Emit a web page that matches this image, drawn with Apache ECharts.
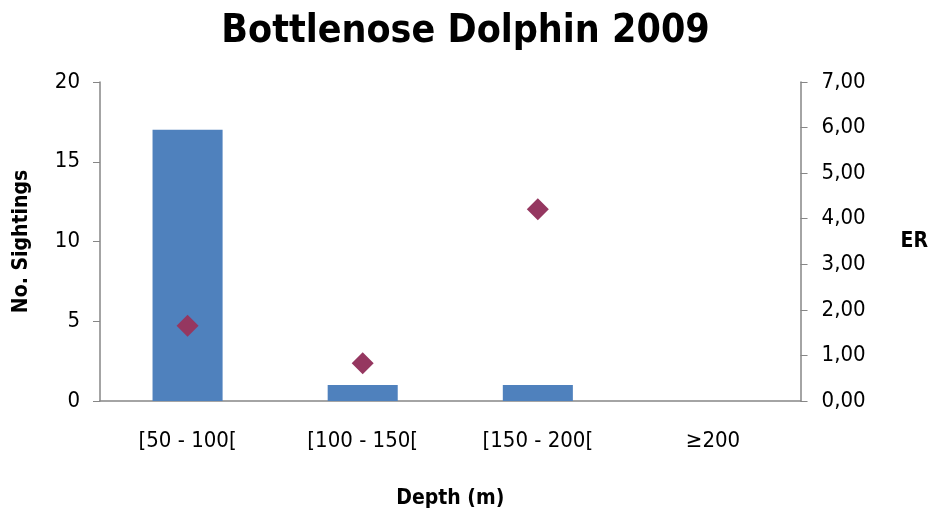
<!DOCTYPE html>
<html>
<head>
<meta charset="utf-8">
<script src="https://cdn.jsdelivr.net/npm/echarts@6/dist/echarts.min.js"></script>
<style>
  html, body { margin: 0; padding: 0; background: #fff; }
  #chart { width: 931px; height: 517px; }
</style>
</head>
<body>
<div id="chart"></div>
<script>
// Depth classes and the two measured quantities per class
const depthClasses = ['[50 - 100[', '[100 - 150[', '[150 - 200[', '\u2265200'];
const sightings = [17, 1, 1, 0];
const encounterRate = [1.65, 0.83, 4.21, null];

const FONT = '"DejaVu Sans Condensed", "Liberation Sans Narrow", sans-serif';

const chart = echarts.init(document.getElementById('chart'), null, { renderer: 'canvas' });

chart.setOption({
  backgroundColor: '#ffffff',
  animation: false,
  title: {
    text: 'Bottlenose Dolphin 2009',
    left: 'center',
    top: 7,
    textStyle: { fontFamily: FONT, fontSize: 39, fontWeight: 'bold', color: '#000' }
  },
  grid: { left: 100, right: 125, top: 82, bottom: 116, containLabel: false },
  xAxis: {
    type: 'category',
    data: depthClasses,
    name: 'Depth (m)',
    nameLocation: 'middle',
    nameGap: 87,
    nameTextStyle: { fontFamily: FONT, fontSize: 21, fontWeight: 'bold', color: '#000' },
    axisLine: { lineStyle: { color: '#868686', width: 1.5 } },
    axisTick: { show: false },
    axisLabel: { fontFamily: FONT, fontSize: 22, color: '#000', margin: 29 }
  },
  yAxis: [
    {
      type: 'value',
      min: 0, max: 20, interval: 5,
      name: 'No. Sightings',
      nameLocation: 'middle',
      nameGap: 68,
      nameTextStyle: { fontFamily: FONT, fontSize: 21, fontWeight: 'bold', color: '#000' },
      axisLine: { show: true, lineStyle: { color: '#868686', width: 1.5 } },
      axisTick: { show: true, length: 7, lineStyle: { color: '#868686' } },
      splitLine: { show: false },
      axisLabel: { fontFamily: FONT, fontSize: 22, color: '#000', margin: 20 }
    },
    {
      type: 'value',
      position: 'right',
      min: 0, max: 7, interval: 1,
      name: 'ER',
      nameLocation: 'middle',
      nameRotate: 0,
      nameGap: 100,
      nameTextStyle: { fontFamily: FONT, fontSize: 21, fontWeight: 'bold', color: '#000' },
      axisLine: { show: true, lineStyle: { color: '#868686', width: 1.5 } },
      axisTick: { show: true, length: 7, lineStyle: { color: '#868686' } },
      splitLine: { show: false },
      axisLabel: {
        fontFamily: FONT, fontSize: 22, color: '#000', margin: 21,
        formatter: v => v.toFixed(2).replace('.', ',')
      }
    }
  ],
  series: [
    {
      name: 'No. Sightings',
      type: 'bar',
      yAxisIndex: 0,
      data: sightings,
      barWidth: '40%',
      itemStyle: { color: '#4F81BD' }
    },
    {
      name: 'ER',
      type: 'scatter',
      yAxisIndex: 1,
      data: encounterRate,
      symbol: 'diamond',
      symbolSize: 22,
      itemStyle: { color: '#953760', opacity: 1 }
    }
  ]
});
</script>
</body>
</html>
